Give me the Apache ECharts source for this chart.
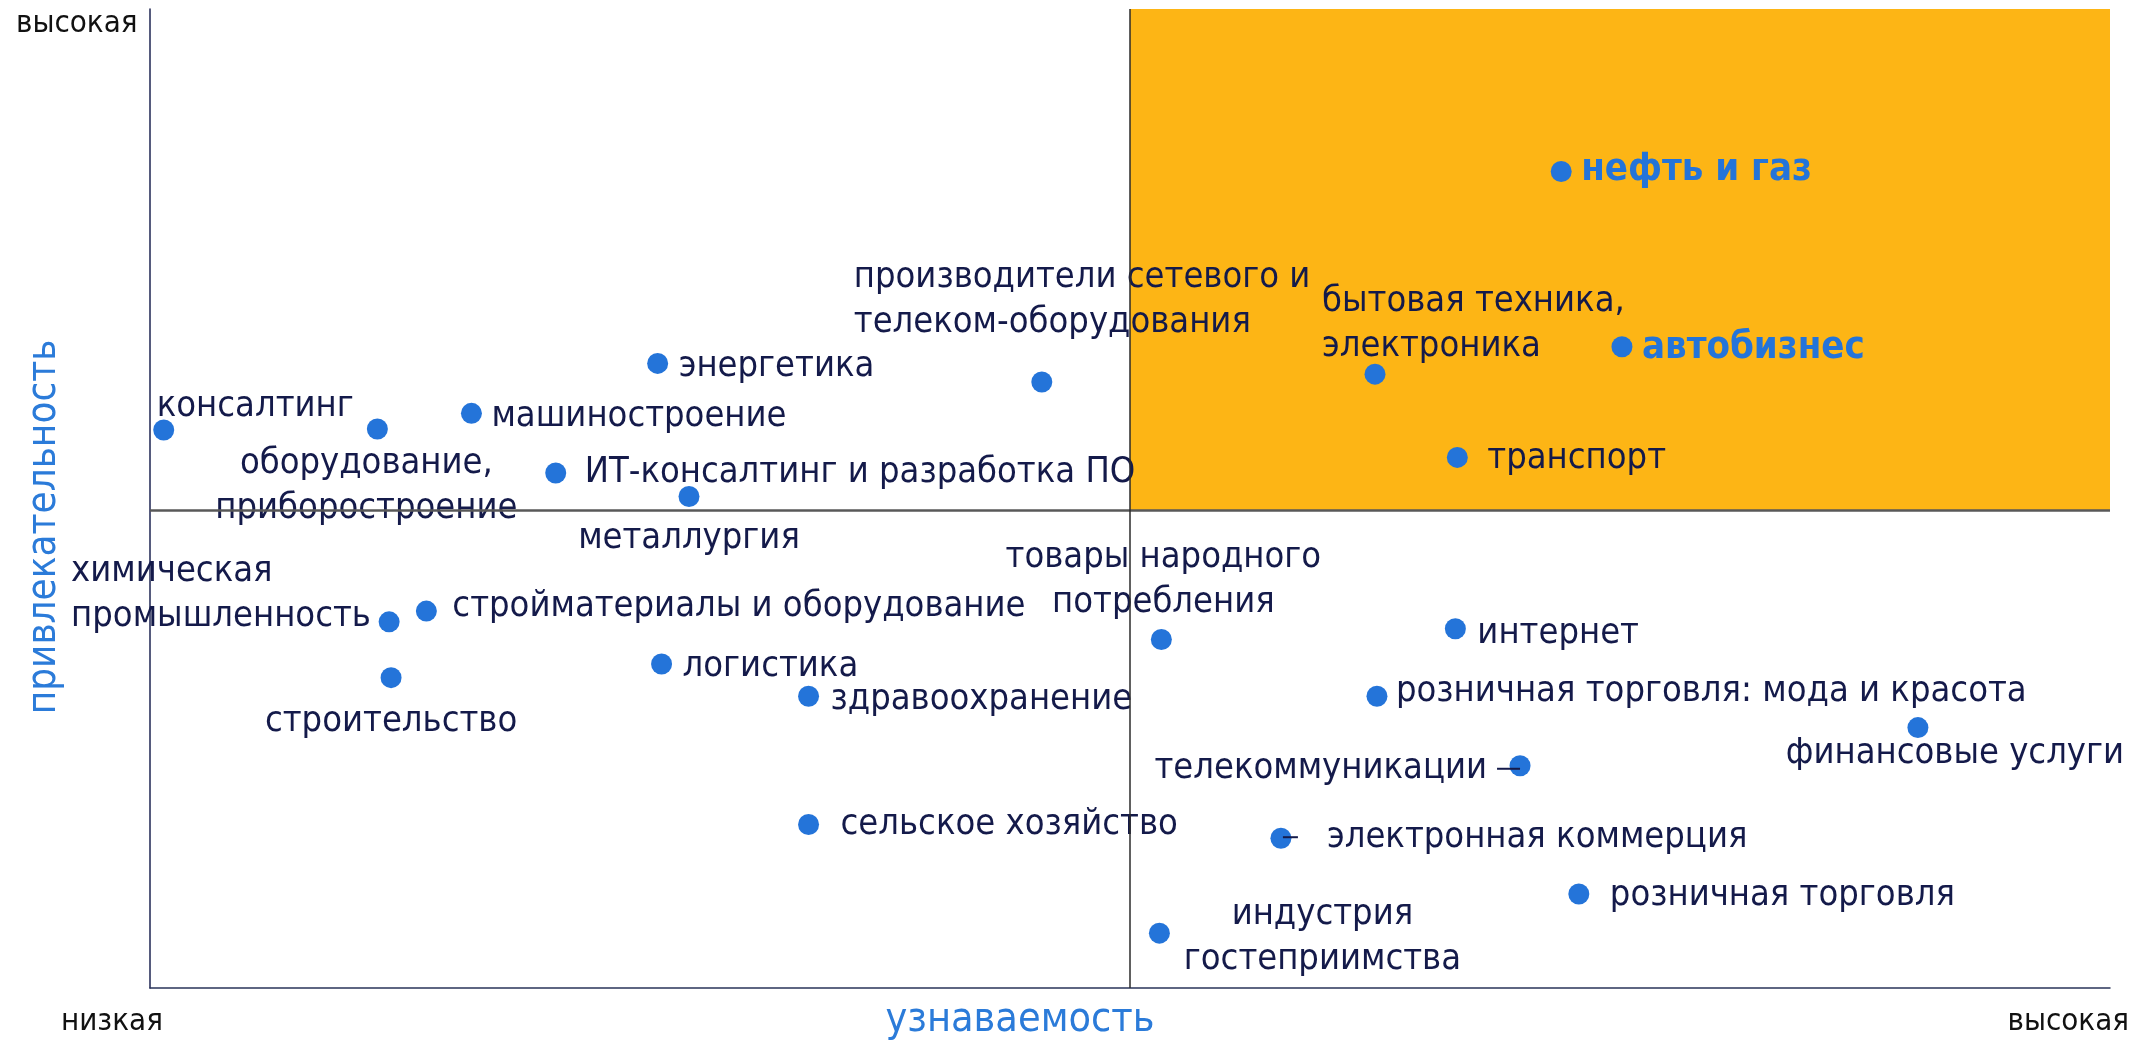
<!DOCTYPE html>
<html>
<head>
<meta charset="utf-8">
<title>узнаваемость / привлекательность</title>
<script src="https://cdn.jsdelivr.net/npm/echarts@6/dist/echarts.min.js"></script>
<style>
  html, body { margin: 0; padding: 0; background: #fff; }
  #chart { width: 2133px; height: 1041px; }
</style>
</head>
<body>
<div id="chart"></div>
<script>
// отрасли и их положение на карте (0..100 по обеим осям)
var names = [
  'консалтинг', 'оборудование,\nприборостроение', 'машиностроение', 'энергетика',
  'ИТ-консалтинг и разработка ПО', 'металлургия', 'производители сетевого и\nтелеком-оборудования',
  'бытовая техника,\nэлектроника', 'нефть и газ', 'автобизнес', 'транспорт',
  'химическая\nпромышленность', 'стройматериалы и оборудование', 'строительство', 'логистика',
  'здравоохранение', 'сельское хозяйство', 'товары народного\nпотребления', 'интернет',
  'розничная торговля: мода и красота', 'финансовые услуги', 'телекоммуникации',
  'электронная коммерция', 'индустрия\nгостеприимства', 'розничная торговля'
];
var recognition = [0.7, 11.6, 16.4, 25.9, 20.7, 27.5, 45.5, 62.5, 72.0, 75.1, 66.7,
  12.2, 14.1, 12.3, 26.1, 33.6, 33.6, 51.6, 66.6, 62.6, 90.2, 69.9, 57.7, 51.5, 72.9];
var attractiveness = [57.0, 57.1, 58.7, 63.8, 52.6, 50.2, 61.9, 62.7, 83.4, 65.5, 54.2,
  37.4, 38.5, 31.7, 33.1, 29.8, 16.7, 35.6, 36.7, 29.8, 26.6, 22.7, 15.3, 5.6, 9.6];
var highlighted = ['нефть и газ', 'автобизнес'];

var xSplit = 50;
var ySplit = 48.8;
var xTitle = 'узнаваемость';
var yTitle = 'привлекательность';
var xEnds = ['низкая', 'высокая'];
var yEnd = 'высокая';

// где подпись стоит относительно точки (px)
var labelPlace = {
  'консалтинг': ['left', -7, -23],
  'оборудование,\nприборостроение': ['center', -11, 57],
  'машиностроение': ['left', 20, 3],
  'энергетика': ['left', 21, 3],
  'ИТ-консалтинг и разработка ПО': ['left', 29, 0],
  'металлургия': ['center', 0, 42],
  'производители сетевого и\nтелеком-оборудования': ['left', -188, -82],
  'бытовая техника,\nэлектроника': ['left', -53, -50],
  'нефть и газ': ['left', 20, -1],
  'автобизнес': ['left', 20, 1],
  'транспорт': ['left', 30, 1],
  'химическая\nпромышленность': ['left', -318, -28],
  'стройматериалы и оборудование': ['left', 26, -4],
  'строительство': ['center', 0, 44],
  'логистика': ['left', 21, 3],
  'здравоохранение': ['left', 22, 3],
  'сельское хозяйство': ['left', 32, 0],
  'товары народного\nпотребления': ['center', 2, -59],
  'интернет': ['left', 22, 5],
  'розничная торговля: мода и красота': ['left', 19, -5],
  'финансовые услуги': ['center', 37, 26],
  'телекоммуникации': ['right', 0, 3],
  'электронная коммерция': ['left', 2, -1],
  'индустрия\nгостеприимства': ['center', 163, 4],
  'розничная торговля': ['left', 31, 2]
};

var textColor = '#141A4A';
var dotColor = '#2474D9';
var titleColor = '#2B7BD9';
var fontFamily = '"DejaVu Sans Condensed", "DejaVu Sans", sans-serif';
var fontSize = 36;

var points = [];
for (var i = 0; i < names.length; i++) {
  var n = names[i];
  var p = labelPlace[n];
  var bold = highlighted.indexOf(n) >= 0;
  var label = {
    show: true,
    position: 'inside',
    align: p[0],
    verticalAlign: 'middle',
    offset: [p[1], p[2]],
    color: bold ? dotColor : textColor,
    fontWeight: bold ? 'bold' : 'normal',
    fontSize: bold ? 38 : fontSize
  };
  if (n === 'телекоммуникации') {
    label.formatter = '{t|' + n + '}{ln|}';
  } else if (n === 'электронная коммерция') {
    label.formatter = '{ln|}{t|' + n + '}';
    label.rich = {
      t: { fontSize: fontSize, fontFamily: fontFamily, color: textColor, padding: [0, 0, 0, 29] },
      ln: { width: 15, height: 2, backgroundColor: textColor }
    };
  }
  points.push({ name: n, value: [recognition[i], attractiveness[i]], label: label });
}

var chart = echarts.init(document.getElementById('chart'));
chart.setOption({
  animation: false,
  textStyle: { fontFamily: fontFamily },
  grid: { left: 150, right: 23, top: 9, bottom: 53 },
  xAxis: {
    type: 'value', min: 0, max: 100,
    axisLine: { show: true, lineStyle: { color: '#2A3459', width: 1.5 } },
    axisTick: { show: false }, axisLabel: { show: false }, splitLine: { show: false }
  },
  yAxis: {
    type: 'value', min: 0, max: 100,
    axisLine: { show: true, lineStyle: { color: '#1E2452', width: 1.5 } },
    axisTick: { show: false }, axisLabel: { show: false }, splitLine: { show: false }
  },
  series: [
    {
      type: 'scatter', z: 1, data: [], silent: true,
      markArea: {
        silent: true,
        itemStyle: { color: '#FDB515' },
        data: [[{ coord: [xSplit, ySplit] }, { coord: [100, 100] }]]
      }
    },
    {
      type: 'scatter', z: 2,
      symbol: 'circle', symbolSize: 21,
      itemStyle: { color: dotColor, opacity: 1 },
      label: {
        fontSize: fontSize, fontFamily: fontFamily, lineHeight: 45,
        formatter: '{b}',
        rich: {
          t: { fontSize: fontSize, fontFamily: fontFamily, color: textColor, padding: [0, 10, 0, 0] },
          ln: { width: 23, height: 2, backgroundColor: textColor }
        }
      },
      data: points
    },
    {
      type: 'scatter', z: 3, data: [], silent: true,
      markLine: {
        silent: true, symbol: 'none', label: { show: false },
        data: [
          { yAxis: ySplit, lineStyle: { color: '#585858', width: 2.5, type: 'solid' } },
          { xAxis: xSplit, lineStyle: { color: '#2B2B2B', width: 1.5, type: 'solid' } }
        ]
      }
    }
  ],
  graphic: [
    { type: 'text', left: 16, top: 8, style: { text: yEnd, fontSize: 31, fontFamily: fontFamily, fill: '#111' } },
    { type: 'text', left: 61, top: 1006, style: { text: xEnds[0], fontSize: 31, fontFamily: fontFamily, fill: '#111' } },
    { type: 'text', right: 4, top: 1006, style: { text: xEnds[1], fontSize: 31, fontFamily: fontFamily, fill: '#111' } },
    { type: 'text', x: 1020, y: 1020, style: { text: xTitle, fontSize: 41, fontFamily: fontFamily, fill: titleColor, align: 'center', verticalAlign: 'middle' } },
    { type: 'text', x: 45, y: 527, rotation: Math.PI / 2, style: { text: yTitle, fontSize: 40, fontFamily: fontFamily, fill: titleColor, align: 'center', verticalAlign: 'middle' } }
  ]
});
</script>
</body>
</html>
